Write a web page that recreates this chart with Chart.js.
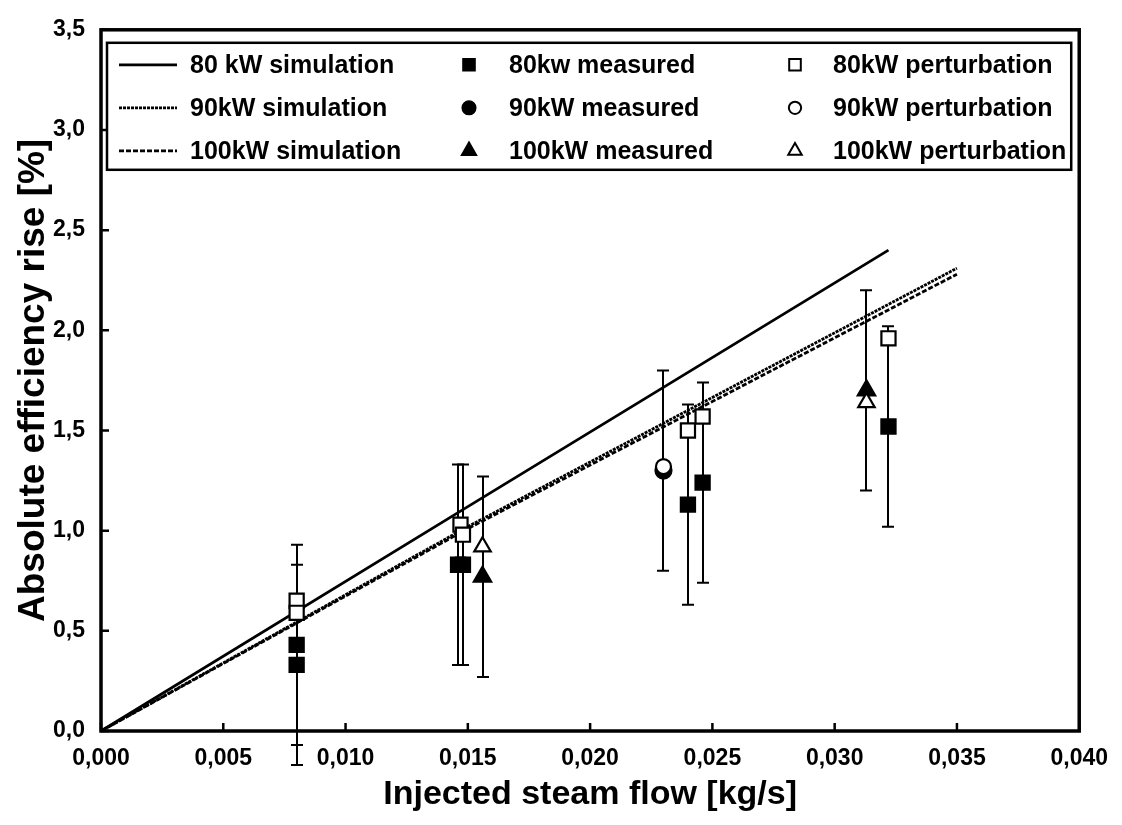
<!DOCTYPE html>
<html><head><meta charset="utf-8">
<script src="https://cdn.jsdelivr.net/npm/chart.js@4.4.1/dist/chart.umd.min.js"></script>
<style>html,body{margin:0;padding:0;background:#fff}</style>
</head><body>
<canvas id="c" width="1122" height="825"></canvas>
<script>
// ---- data ----
const xTicks = [0, 0.005, 0.010, 0.015, 0.020, 0.025, 0.030, 0.035, 0.040];
const yTicks = [0, 0.5, 1.0, 1.5, 2.0, 2.5, 3.0, 3.5];

const sim80X  = [0, 0.015, 0.0322];
const sim80Y  = [0, 1.12, 2.40];
const sim90X  = [0, 0.015, 0.035];
const sim90Y  = [0, 1.02, 2.31];
const sim100X = [0, 0.015, 0.035];
const sim100Y = [0, 1.01, 2.28];

const meas80X = [0.008, 0.008, 0.0146, 0.0148, 0.0240, 0.0246, 0.0322];
const meas80Y = [0.43, 0.33, 0.83, 0.83, 1.13, 1.24, 1.52];
const meas80Err = [0.5, 0.5, 0.5, 0.5, 0.5, 0.5, 0.5];
const meas90X = [0.0230];
const meas90Y = [1.30];
const meas90Err = [0.5];
const meas100X = [0.0156, 0.0313];
const meas100Y = [0.77, 1.70];
const meas100Err = [0.5, 0.5];

const pert80X = [0.008, 0.008, 0.0147, 0.0148, 0.0240, 0.0246, 0.0322];
const pert80Y = [0.65, 0.59, 1.03, 0.98, 1.50, 1.57, 1.96];
const pert90X = [0.0230];
const pert90Y = [1.32];
const pert100X = [0.0156, 0.0313];
const pert100Y = [0.92, 1.64];

const FONT = "'Liberation Sans', Arial, sans-serif";
const pts = (xs, ys) => xs.map((v, i) => ({x: v, y: ys[i]}));
const comma = (v, d) => v.toFixed(d).replace('.', ',');

const lineDs = (label, xs, ys, dash) => ({
  label, data: pts(xs, ys), showLine: true, borderColor: '#000', borderWidth: 2.8,
  borderDash: dash, pointRadius: 0, pointHoverRadius: 0, fill: false, order: 5, clip: false, kind: 'line'
});
const markDs = (label, xs, ys, style, filled, radius, errs) => ({
  label, data: pts(xs, ys), showLine: false, pointStyle: style, pointRadius: radius,
  pointBorderWidth: 2.2, pointBorderColor: '#000', pointBackgroundColor: filled ? '#000' : '#fff',
  order: filled ? 2 : 1, clip: false, errors: errs, kind: 'mark'
});

const datasets = [
  lineDs('80 kW simulation', sim80X, sim80Y, []),
  markDs('80kw measured', meas80X, meas80Y, 'rect', true, 10, meas80Err),
  markDs('80kW perturbation', pert80X, pert80Y, 'rect', false, 10),
  lineDs('90kW simulation', sim90X, sim90Y, [3, 1]),
  markDs('90kW measured', meas90X, meas90Y, 'circle', true, 8, meas90Err),
  markDs('90kW perturbation', pert90X, pert90Y, 'circle', false, 7.5),
  lineDs('100kW simulation', sim100X, sim100Y, [5, 2]),
  markDs('100kW measured', meas100X, meas100Y, 'triangle', true, 10, meas100Err),
  markDs('100kW perturbation', pert100X, pert100Y, 'triangle', false, 9.5),
];

const deco = {
  id: 'deco',
  beforeDatasetsDraw(chart) {
    const {ctx, scales: {x, y}} = chart;
    ctx.save();
    ctx.strokeStyle = '#000'; ctx.lineWidth = 2;
    chart.data.datasets.forEach(ds => {
      if (!ds.errors) return;
      ds.data.forEach((p, i) => {
        const e = ds.errors[i];
        const px = Math.round(x.getPixelForValue(p.x));
        const y1 = y.getPixelForValue(p.y + e), y2 = y.getPixelForValue(p.y - e);
        ctx.beginPath();
        ctx.moveTo(px, y1); ctx.lineTo(px, y2);
        ctx.moveTo(px - 6, y1); ctx.lineTo(px + 6, y1);
        ctx.moveTo(px - 6, y2); ctx.lineTo(px + 6, y2);
        ctx.stroke();
      });
    });
    ctx.restore();
  },
  afterDatasetsDraw(chart) {
    const {ctx, chartArea: a, scales: {x, y}} = chart;
    ctx.save();
    ctx.strokeStyle = '#000';
    ctx.lineWidth = 3.5;
    ctx.strokeRect(a.left, a.top, a.right - a.left, a.bottom - a.top);
    ctx.lineWidth = 2.5;
    ctx.beginPath();
    xTicks.forEach(v => { const px = x.getPixelForValue(v); ctx.moveTo(px, a.bottom); ctx.lineTo(px, a.bottom - 8); });
    yTicks.forEach(v => { const py = y.getPixelForValue(v); ctx.moveTo(a.left, py); ctx.lineTo(a.left + 8, py); });
    ctx.stroke();
    ctx.restore();
  },
  afterDraw(chart) {
    const {ctx, chartArea: a} = chart;
    const bx = a.left + 6, by = a.top + 13, bw = a.right - 8 - bx, bh = 127;
    ctx.save();
    ctx.fillStyle = '#fff';
    ctx.fillRect(bx, by, bw, bh);
    ctx.strokeStyle = '#000'; ctx.lineWidth = 2.5;
    ctx.strokeRect(bx, by, bw, bh);
    const rows = [by + 22, by + 65, by + 108];
    const colMark = [bx + 12, bx + 362, bx + 688];
    const colText = [bx + 83, bx + 402, bx + 726];
    ctx.font = "bold 25px " + FONT;
    ctx.textBaseline = 'middle';
    ctx.fillStyle = '#000';
    chart.data.datasets.forEach((ds, i) => {
      const r = Math.floor(i / 3), c = i % 3;
      const yy = rows[r];
      if (ds.kind === 'line') {
        ctx.save();
        ctx.strokeStyle = '#000'; ctx.lineWidth = 2.8;
        ctx.setLineDash(ds.borderDash);
        ctx.beginPath(); ctx.moveTo(colMark[c], yy); ctx.lineTo(colMark[c] + 58, yy); ctx.stroke();
        ctx.restore();
      } else {
        ctx.save();
        ctx.strokeStyle = '#000'; ctx.lineWidth = 2;
        ctx.fillStyle = ds.pointBackgroundColor;
        Chart.helpers.drawPoint(ctx, {pointStyle: ds.pointStyle, radius: ds.pointRadius * 0.82, rotation: 0, borderWidth: 2}, colMark[c], yy);
        ctx.restore();
      }
      ctx.fillStyle = '#000';
      ctx.fillText(ds.label, colText[c], yy + 1);
    });
    ctx.restore();
  }
};

new Chart(document.getElementById('c'), {
  type: 'scatter',
  data: {datasets},
  options: {
    responsive: false, animation: false, devicePixelRatio: 1,
    layout: {padding: {top: 20, right: 41, left: 0, bottom: 0}},
    plugins: {legend: {display: false}, tooltip: {enabled: false}},
    scales: {
      x: {
        type: 'linear', min: 0, max: 0.04,
        afterBuildTicks: s => { s.ticks = xTicks.map(v => ({value: v})); },
        afterFit: s => { s.height = 94; },
        grid: {display: false, drawTicks: false},
        border: {display: false},
        ticks: {padding: 14, color: '#000', font: {family: FONT, size: 23, weight: 'bold'}, maxRotation: 0,
          callback: v => comma(v, 3)},
        title: {display: true, text: 'Injected steam flow [kg/s]', color: '#000',
          font: {family: FONT, size: 34, weight: 'bold'}, padding: {top: 0, bottom: 10}}
      },
      y: {
        type: 'linear', min: 0, max: 3.5,
        afterBuildTicks: s => { s.ticks = yTicks.map(v => ({value: v})); },
        afterFit: s => { s.width = 101; },
        grid: {display: false, drawTicks: false},
        border: {display: false},
        ticks: {padding: 16, color: '#000', font: {family: FONT, size: 23, weight: 'bold'},
          callback: v => comma(v, 1)},
        title: {display: true, text: 'Absolute efficiency rise [%]', color: '#000',
          font: {family: FONT, size: 37, weight: 'bold'}, padding: {top: 12, bottom: 0}}
      }
    }
  },
  plugins: [deco]
});
</script>
</body></html>
